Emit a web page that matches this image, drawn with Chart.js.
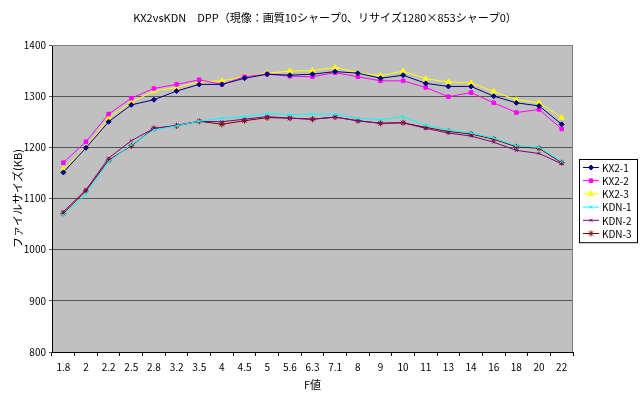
<!DOCTYPE html>
<html>
<head>
<meta charset="utf-8">
<script src="https://cdn.jsdelivr.net/npm/chart.js@4"></script>
<style>
  body { margin: 0; background: #fff; }
</style>
</head>
<body>
<canvas id="chart" width="640" height="397"></canvas>
<script>
// F値 (categories)
var fLabels = ['1.8','2','2.2','2.5','2.8','3.2','3.5','4','4.5','5','5.6','6.3','7.1','8','9','10','11','13','14','16','18','20','22'];

// ファイルサイズ (KB)
var kx2_1 = [1151,1199,1250,1283,1293,1310,1323,1323,1335,1343,1341,1343,1348,1345,1335,1341,1325,1319,1319,1300,1287,1281,1245];
var kx2_2 = [1170,1211,1265,1296,1315,1323,1332,1323,1338,1343,1339,1338,1346,1338,1330,1330,1317,1299,1307,1287,1268,1274,1236];
var kx2_3 = [1157,1199,1257,1288,1310,1317,1328,1330,1338,1345,1349,1350,1356,1346,1340,1349,1334,1328,1326,1309,1293,1287,1258];
var kdn_1 = [1068,1108,1172,1205,1234,1242,1251,1257,1260,1266,1264,1265,1265,1257,1254,1260,1243,1234,1228,1218,1203,1200,1172];
var kdn_2 = [1074,1117,1179,1213,1237,1243,1251,1250,1255,1260,1257,1255,1259,1252,1247,1248,1237,1228,1222,1210,1194,1188,1168];
var kdn_3 = [1071,1115,1175,1203,1237,1242,1251,1245,1252,1258,1257,1255,1259,1252,1247,1248,1239,1231,1226,1216,1201,1198,1170];

var yTicks = [800, 900, 1000, 1100, 1200, 1300, 1400];

var chartTitle = 'KX2vsKDN　DPP（現像：画質10シャープ0、リサイズ1280×853シャープ0）';

var FONT = "'Noto Sans CJK JP', 'DejaVu Sans', sans-serif";

function series(label, values, color, style, radius) {
  return {
    label: label,
    data: values,
    borderColor: color,
    backgroundColor: color,
    borderWidth: 1,
    pointStyle: style,
    pointRadius: radius,
    pointBorderWidth: 1,
    pointHoverRadius: radius,
    tension: 0,
    fill: false
  };
}

// gray plot area + border, title on top
var plotBg = {
  id: 'plotBg',
  beforeDraw: function(chart) {
    var a = chart.chartArea, ctx = chart.ctx;
    ctx.save();
    ctx.fillStyle = '#c0c0c0';
    ctx.fillRect(a.left, a.top, a.right - a.left, a.bottom - a.top);
    ctx.fillStyle = '#000000';
    ctx.font = '11px ' + FONT;
    ctx.textAlign = 'center';
    ctx.textBaseline = 'middle';
    ctx.fillText(chartTitle, 325, 18);
    ctx.restore();
  },
  beforeDatasetsDraw: function(chart) {
    var a = chart.chartArea, ctx = chart.ctx;
    ctx.save();
    ctx.strokeStyle = '#808080';
    ctx.lineWidth = 1;
    ctx.beginPath();
    ctx.moveTo(a.left, a.top + 0.5);
    ctx.lineTo(a.right - 0.5, a.top + 0.5);
    ctx.lineTo(a.right - 0.5, a.bottom);
    ctx.stroke();
    ctx.restore();
  }
};

// boxed legend at the right, like the spreadsheet chart
var boxLegend = {
  id: 'boxLegend',
  afterDraw: function(chart) {
    var ctx = chart.ctx;
    var x0 = 579, y0 = 159, w = 58, rowH = 13.2;
    var sets = chart.data.datasets;
    ctx.save();
    ctx.fillStyle = '#ffffff';
    ctx.fillRect(x0, y0, w, rowH * sets.length + 4);
    ctx.strokeStyle = '#000000';
    ctx.lineWidth = 1;
    ctx.strokeRect(x0 + 0.5, y0 + 0.5, w, rowH * sets.length + 4);
    ctx.font = '10px ' + FONT;
    ctx.textBaseline = 'middle';
    sets.forEach(function(ds, i) {
      var y = y0 + 8 + i * rowH;
      ctx.strokeStyle = ds.borderColor;
      ctx.fillStyle = ds.backgroundColor;
      ctx.beginPath();
      ctx.moveTo(x0 + 4, y + 0.5);
      ctx.lineTo(x0 + 20, y + 0.5);
      ctx.stroke();
      Chart.helpers.drawPoint(ctx, {
        pointStyle: ds.pointStyle, radius: ds.pointRadius, borderWidth: 1, rotation: 0
      }, x0 + 12, y + 0.5);
      ctx.fillStyle = '#000000';
      ctx.fillText(ds.label, x0 + 23, y + 1);
    });
    ctx.restore();
  }
};

Chart.defaults.font.family = FONT;
Chart.defaults.color = '#000000';

new Chart(document.getElementById('chart'), {
  type: 'line',
  data: {
    labels: fLabels,
    datasets: [
      series('KX2-1', kx2_1, '#000080', 'rectRot', 2.5),
      series('KX2-2', kx2_2, '#ff00ff', 'rect', 2.5),
      series('KX2-3', kx2_3, '#ffff00', 'triangle', 3),
      series('KDN-1', kdn_1, '#00ffff', 'crossRot', 2),
      series('KDN-2', kdn_2, '#800080', 'crossRot', 2),
      series('KDN-3', kdn_3, '#800000', 'star', 3)
    ]
  },
  options: {
    responsive: false,
    animation: false,
    layout: { padding: { left: 0, right: 67, top: 45, bottom: 0 } },
    plugins: {
      legend: { display: false },
      tooltip: { enabled: false },
      title: { display: false }
    },
    scales: {
      x: {
        offset: true,
        grid: {
          offset: true,
          drawOnChartArea: false,
          drawTicks: true,
          tickLength: 4,
          color: '#000000'
        },
        border: { color: '#000000', width: 1 },
        ticks: { font: { size: 10 }, padding: 5, maxRotation: 0, autoSkip: false },
        title: {
          display: true,
          text: 'F値',
          font: { size: 11 },
          padding: { top: 2, bottom: 6 }
        },
        afterFit: function(scale) { scale.height = 45; }
      },
      y: {
        min: 800,
        max: 1400,
        afterBuildTicks: function(scale) {
          scale.ticks = yTicks.map(function(v) { return { value: v }; });
        },
        grid: {
          color: '#555555',
          lineWidth: 1,
          drawTicks: true,
          tickLength: 3
        },
        border: { color: '#000000', width: 1 },
        ticks: {
          font: { size: 10 },
          padding: 3,
          callback: function(v) { return String(v); }
        },
        title: {
          display: true,
          text: 'ファイルサイズ(KB)',
          font: { size: 11 },
          padding: { top: 11, bottom: 0 }
        },
        afterFit: function(scale) { scale.width = 52; }
      }
    }
  },
  plugins: [plotBg, boxLegend]
});
</script>
</body>
</html>
